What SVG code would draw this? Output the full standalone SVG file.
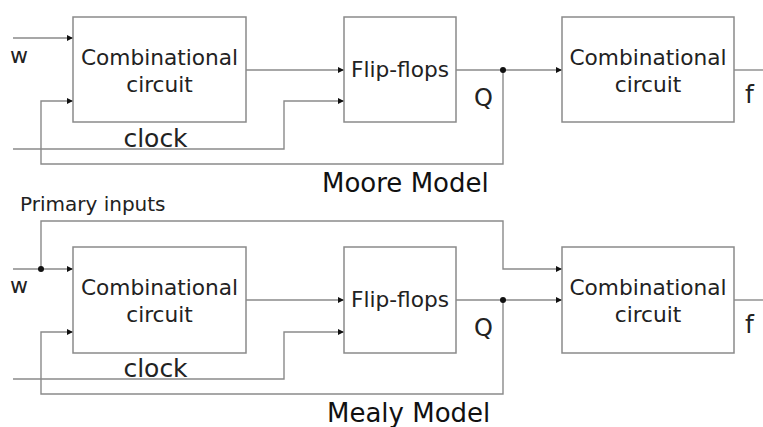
<svg xmlns="http://www.w3.org/2000/svg" width="763" height="427" viewBox="0 0 763 427">
<style>
.box{fill:#fff;stroke:#8a8a8a;stroke-width:1.5}
.w{fill:none;stroke:#8a8a8a;stroke-width:1.4}
.t{font-family:"DejaVu Sans",sans-serif;fill:#222}
.lbl{font-size:21.7px;text-anchor:middle}
.title{font-family:"DejaVu Sans",sans-serif;font-size:26px;fill:#111}
</style>
<defs>
<marker id="a" markerUnits="userSpaceOnUse" markerWidth="7" markerHeight="7" refX="6" refY="3" orient="auto">
<path d="M0,0 L6,3 L0,6 z" fill="#111"/>
</marker>
</defs>
<rect width="763" height="427" fill="#fff"/>
<g id="connectors">
<path class="w" d="M13,38 H73" marker-end="url(#a)"/>
<path class="w" d="M246,70 H344" marker-end="url(#a)"/>
<path class="w" d="M13,149 H284 V101 H344" marker-end="url(#a)"/>
<path class="w" d="M456,70 H562" marker-end="url(#a)"/>
<path class="w" d="M503,70 V164 H41 V101 H73" marker-end="url(#a)"/>
<path class="w" d="M734,70 H763"/>
<circle cx="503" cy="70" r="3" fill="#111"/>
<path class="w" d="M13,269 H73" marker-end="url(#a)"/>
<path class="w" d="M41,269 V221 H503 V269 H562" marker-end="url(#a)"/>
<path class="w" d="M246,300 H344" marker-end="url(#a)"/>
<path class="w" d="M13,379 H284 V332 H344" marker-end="url(#a)"/>
<path class="w" d="M456,300 H562" marker-end="url(#a)"/>
<path class="w" d="M503,300 V394 H41 V332 H73" marker-end="url(#a)"/>
<path class="w" d="M734,300 H763"/>
<circle cx="41" cy="269" r="3" fill="#111"/>
<circle cx="503" cy="300" r="3" fill="#111"/>
</g>
<g id="moore-comb1">
<rect class="box" x="73" y="17" width="173" height="105"/>
<text class="t lbl" x="159.5" y="65">Combinational</text>
<text class="t lbl" x="159.5" y="92">circuit</text>
</g>
<g id="moore-ff">
<rect class="box" x="344" y="17" width="112" height="105"/>
<text class="t lbl" x="400" y="77">Flip-flops</text>
</g>
<g id="moore-comb2">
<rect class="box" x="562" y="17" width="172" height="105"/>
<text class="t lbl" x="648" y="65">Combinational</text>
<text class="t lbl" x="648" y="92">circuit</text>
</g>
<g id="mealy-comb1">
<rect class="box" x="73" y="247" width="173" height="106"/>
<text class="t lbl" x="159.5" y="295">Combinational</text>
<text class="t lbl" x="159.5" y="322">circuit</text>
</g>
<g id="mealy-ff">
<rect class="box" x="344" y="247" width="112" height="106"/>
<text class="t lbl" x="400" y="307">Flip-flops</text>
</g>
<g id="mealy-comb2">
<rect class="box" x="562" y="247" width="172" height="106"/>
<text class="t lbl" x="648" y="295">Combinational</text>
<text class="t lbl" x="648" y="322">circuit</text>
</g>
<g id="labels">
<text class="t" x="10" y="63" font-size="22">w</text>
<text class="t" x="155.5" y="147" font-size="25" text-anchor="middle">clock</text>
<text class="t" x="474" y="106" font-size="24">Q</text>
<text class="t" x="745" y="103" font-size="25">f</text>
<text class="title" x="322" y="192">Moore Model</text>
<text class="t" x="20" y="211" font-size="20">Primary inputs</text>
<text class="t" x="10" y="293" font-size="22">w</text>
<text class="t" x="155.5" y="377" font-size="25" text-anchor="middle">clock</text>
<text class="t" x="474" y="336" font-size="24">Q</text>
<text class="t" x="745" y="333" font-size="25">f</text>
<text class="title" x="327" y="422">Mealy Model</text>
</g>
</svg>
